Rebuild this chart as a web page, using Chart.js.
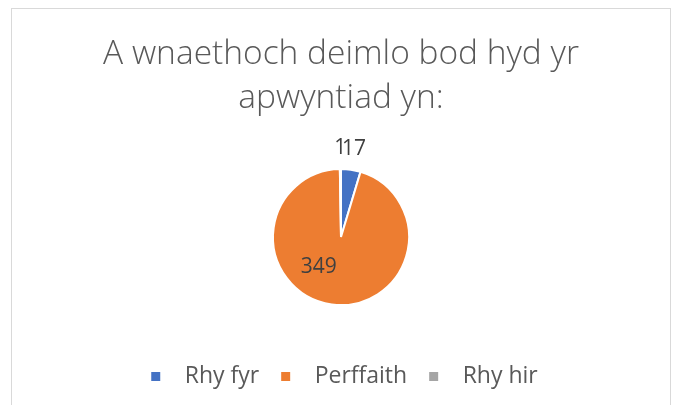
<!DOCTYPE html>
<html>
<head>
<meta charset="utf-8">
<script src="https://cdn.jsdelivr.net/npm/chart.js@4/dist/chart.umd.min.js"></script>
<style>
  html, body { margin: 0; padding: 0; background: #fff; overflow: hidden; }
  #frame {
    position: absolute; left: 11px; top: 8px;
    width: 658px; height: 420px;
    border: 1px solid #d9d9d9;
  }
  #frame canvas { display: block; }
</style>
</head>
<body>
<div id="frame"><canvas id="lengthChart"></canvas></div>
<script>
const categories = ['Rhy fyr', 'Perffaith', 'Rhy hir'];
const counts = [17, 349, 1];
const sliceColours = ['#4472C4', '#ED7D31', '#A5A5A5'];
const titleLines = ['A wnaethoch deimlo bod hyd yr', 'apwyntiad yn:'];

// value labels: small slices outside the pie, big one inside
const valueLabels = {
    id: 'valueLabels',
    afterDatasetsDraw(chart) {
        const ctx = chart.ctx;
        const meta = chart.getDatasetMeta(0);
        const total = counts.reduce((a, b) => a + b, 0);
        ctx.save();
        ctx.font = '21px "Open Sans"';
        ctx.fillStyle = '#404040';
        ctx.textAlign = 'center';
        ctx.textBaseline = 'middle';
        meta.data.forEach((arc, i) => {
            const p = arc.getProps(['x', 'y', 'startAngle', 'endAngle', 'outerRadius'], true);
            let mid = (p.startAngle + p.endAngle) / 2;
            let r;
            if (counts[i] / total < 0.1) {
                r = p.outerRadius + 21;
            } else {
                r = p.outerRadius * 0.55;
                mid += 0.5;
            }
            ctx.fillText(String(counts[i]), p.x + Math.cos(mid) * r, p.y + Math.sin(mid) * r);
        });
        ctx.restore();
    }
};

const canvas = document.getElementById('lengthChart');
canvas.width = 658;
canvas.height = 396;

const lengthChart = new Chart(canvas.getContext('2d'), {
    type: 'pie',
    data: {
        labels: categories,
        datasets: [{
            data: counts,
            backgroundColor: sliceColours,
            borderColor: '#ffffff',
            borderWidth: 2,
            radius: 68
        }]
    },
    options: {
        responsive: false,
        animation: false,
        layout: { padding: { bottom: 7 } },
        plugins: {
            title: {
                display: true,
                text: titleLines,
                color: '#595959',
                font: { family: '"Open Sans"', size: 33.5, weight: '300', lineHeight: 1.3 },
                padding: { top: 24, bottom: 4 }
            },
            legend: {
                position: 'bottom',
                labels: {
                    color: '#595959',
                    font: { family: '"Open Sans"', size: 23 },
                    usePointStyle: true,
                    pointStyle: 'rect',
                    boxWidth: 23,
                    boxHeight: 9,
                    padding: 15,
                    generateLabels(chart) {
                        const items = Chart.overrides.pie.plugins.legend.labels.generateLabels(chart);
                        items.forEach(it => { it.text = ' ' + it.text; it.lineWidth = 0; });
                        return items;
                    }
                }
            },
            tooltip: { enabled: false }
        }
    },
    plugins: [valueLabels]
});
</script>
</body>
</html>
